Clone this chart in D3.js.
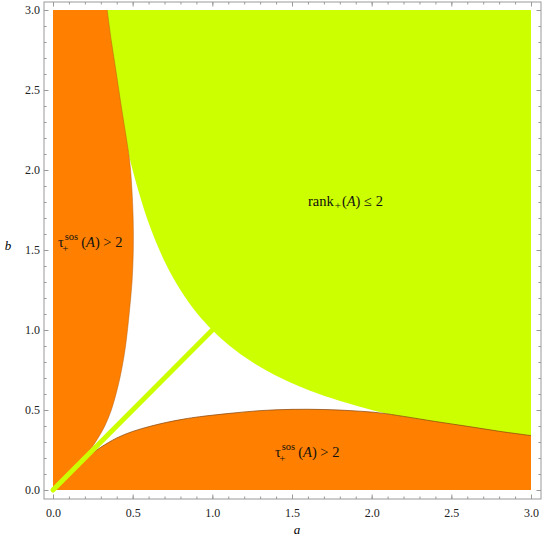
<!DOCTYPE html>
<meta charset="utf-8">
<script src="https://d3js.org/d3.v7.min.js"></script>
<style>
body { margin: 0; background: #fff; }
svg text { font-family: "Liberation Serif", "DejaVu Serif", serif; }
.axis .domain { display: none; }
.axis line { stroke: #999; }
.axis text { fill: #222; font-size: 12px; }
</style>
<body>
<div id="canvas"></div>
<script>

// lower orange boundary (a, b)
var lowerA = [0, 0.06, 0.12, 0.19, 0.25, 0.3, 0.4, 0.5, 0.61, 0.71, 0.82, 0.92, 1.11, 1.3, 1.5, 1.7, 1.9, 2.05, 2.2, 2.4, 2.6, 2.8, 3.0];
var lowerB = [0, 0.06, 0.118, 0.182, 0.232, 0.267, 0.325, 0.366, 0.398, 0.422, 0.443, 0.458, 0.479, 0.496, 0.504, 0.503, 0.494, 0.482, 0.46, 0.428, 0.398, 0.367, 0.34];
// left orange boundary is the mirror image (b, a) of the lower one

// green region lower-left boundary (a, b)
var greenA = [0.335, 0.36, 0.4, 0.45, 0.5, 0.6, 0.7, 0.8, 0.9, 1.0, 1.11, 1.25, 1.43, 1.67, 2.0, 2.22, 2.5, 2.78, 3.0];
var greenB = [3.0, 2.78, 2.5, 2.22, 2.0, 1.67, 1.43, 1.25, 1.11, 1.0, 0.9, 0.8, 0.7, 0.6, 0.5, 0.45, 0.4, 0.36, 0.335];

// diagonal green segment
var diagA = [0, 1.0];
var diagB = [0, 1.0];

var ticksMajor = [0, 0.5, 1.0, 1.5, 2.0, 2.5, 3.0];
var ticksMinor = d3.range(0, 31).map(function(i) { return i / 10; });

var width = 545, height = 544;
var orange = "#ff8000", green = "#ccff00";

var svg = d3.select("#canvas").append("svg")
    .attr("width", width).attr("height", height);

// frame box
var frame = {left: 44, right: 541, top: 2, bottom: 499};

var x = d3.scaleLinear().domain([0, 3]).range([53, 531]);
var y = d3.scaleLinear().domain([0, 3]).range([490, 10]);

var lowerPts = lowerA.map(function(a, i) { return [a, lowerB[i]]; });
var leftPts = lowerA.map(function(a, i) { return [lowerB[i], a]; });
var greenPts = greenA.map(function(a, i) { return [a, greenB[i]]; });

var line = d3.line()
    .x(function(d) { return x(d[0]); })
    .y(function(d) { return y(d[1]); })
    .curve(d3.curveCatmullRom.alpha(0.5));

var poly = d3.line()
    .x(function(d) { return x(d[0]); })
    .y(function(d) { return y(d[1]); });

// green region
var gPath = line(greenPts) + poly([[3, greenB[greenB.length - 1]], [3, 3], [greenA[0], 3]]).replace("M", "L") + "Z";
svg.append("path").attr("d", gPath).attr("fill", green);

// lower orange region
var lPath = line(lowerPts) + poly([[3, lowerB[lowerB.length - 1]], [3, 0], [0, 0]]).replace("M", "L") + "Z";
svg.append("path").attr("d", lPath).attr("fill", orange);

// left orange region
var leftPath = line(leftPts) + poly([[leftPts[leftPts.length - 1][0], 3], [0, 3], [0, 0]]).replace("M", "L") + "Z";
svg.append("path").attr("d", leftPath).attr("fill", orange);

// boundary edges
svg.append("path").attr("d", line(lowerPts))
    .attr("fill", "none").attr("stroke", "#8a4a10").attr("stroke-width", 1).attr("stroke-opacity", 0.75);
svg.append("path").attr("d", line(leftPts))
    .attr("fill", "none").attr("stroke", "#b05a10").attr("stroke-width", 0.8).attr("stroke-opacity", 0.6);

// diagonal
svg.append("line")
    .attr("x1", x(diagA[0])).attr("y1", y(diagB[0]))
    .attr("x2", x(diagA[1])).attr("y2", y(diagB[1]))
    .attr("stroke", green).attr("stroke-width", 5).attr("stroke-linecap", "round");

// frame
svg.append("rect")
    .attr("x", frame.left).attr("y", frame.top)
    .attr("width", frame.right - frame.left).attr("height", frame.bottom - frame.top)
    .attr("fill", "none").attr("stroke", "#999").attr("stroke-width", 1);

function addAxis(axisFn, scale, tx, ty, labels) {
    var fmt = d3.format(".1f");
    svg.append("g").attr("class", "axis")
        .attr("transform", "translate(" + tx + "," + ty + ")")
        .call(axisFn(scale).tickValues(ticksMinor).tickSize(-2.5).tickFormat(""));
    var g = svg.append("g").attr("class", "axis")
        .attr("transform", "translate(" + tx + "," + ty + ")")
        .call(axisFn(scale).tickValues(ticksMajor).tickSize(-4.5)
            .tickFormat(labels ? fmt : ""));
    return g;
}

var bx = addAxis(d3.axisBottom, x, 0, frame.bottom, true);
bx.selectAll("text").attr("y", 9);
var lx = addAxis(d3.axisLeft, y, frame.left, 0, true);
lx.selectAll("text").attr("x", -4);
addAxis(d3.axisTop, x, 0, frame.top, false);
addAxis(d3.axisRight, y, frame.right, 0, false);

// axis titles
svg.append("text").attr("x", 297).attr("y", 534)
    .attr("text-anchor", "middle").style("font-style", "italic").style("font-size", "13px").text("a");
svg.append("text").attr("x", 8).attr("y", 250)
    .attr("text-anchor", "middle").style("font-style", "italic").style("font-size", "13px").text("b");

// rich labels
function piece(px, py, txt, size, italic) {
    var t = svg.append("text").attr("x", px).attr("y", py)
        .style("font-size", size + "px").style("fill", "#111").text(txt);
    if (italic) t.style("font-style", "italic");
    return t.node().getComputedTextLength();
}

function tauLabel(a, b) {
    var px = x(a), py = y(b);
    var w = piece(px, py, "\u03c4", 14.5, false);
    var ws = piece(px + w + 1, py - 7, "sos", 10.5, false);
    piece(px + w - 1.5, py + 5, "+", 11, false);
    var cx = px + w + 1 + ws + 3;
    cx += piece(cx, py, "(", 14.5, false);
    cx += piece(cx, py, "A", 14.5, true);
    piece(cx, py, ") > 2", 14.5, false);
}

function rankLabel(a, b) {
    var px = x(a), py = y(b);
    var w = piece(px, py, "rank", 14.5, false);
    var cx = px + w + 1;
    cx += piece(cx, py + 3, "+", 11, false) + 1;
    cx += piece(cx, py, "(", 14.5, false);
    cx += piece(cx, py, "A", 14.5, true);
    piece(cx, py, ") \u2264 2", 14.5, false);
}

tauLabel(0.031, 1.519);
tauLabel(1.393, 0.206);
rankLabel(1.6, 1.775);

</script>
</body>
